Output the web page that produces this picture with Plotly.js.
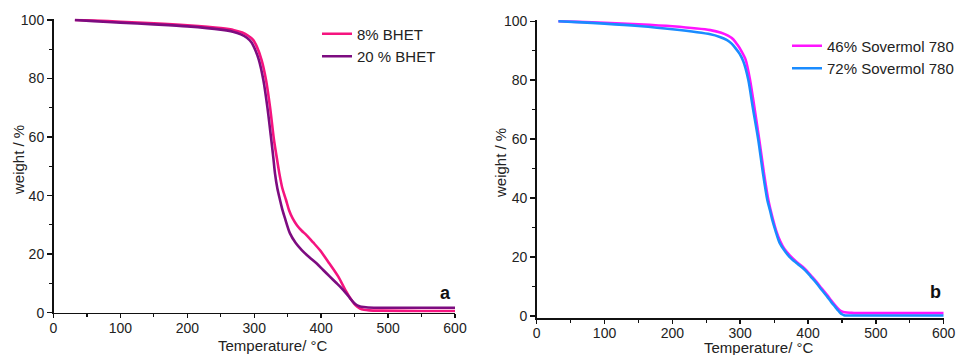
<!DOCTYPE html>
<html><head><meta charset="utf-8">
<script src="https://cdn.plot.ly/plotly-3.0.1.min.js"></script>
<style>html,body{margin:0;padding:0;background:#fff}#g{width:959px;height:355px}</style>
</head><body><div id="g"></div>
<script>
// Panel a
const tA_8 = [32, 60, 100, 150, 200, 250, 270, 282, 291, 298, 304, 311, 317.6, 323.5, 329.5, 334, 337.5, 342, 347.5, 352, 357.4, 364, 371, 378, 388, 398, 412, 425.6, 436, 444, 449, 454, 458, 464, 472, 490, 550, 600];
const wA_8 = [100, 99.8, 99.4, 98.9, 98.2, 97.2, 96.5, 95.7, 94.6, 93.3, 90.8, 86.3, 79.5, 70.4, 59.0, 52.5, 47.6, 42.5, 38.5, 35.0, 32.2, 29.8, 28.0, 26.5, 24.0, 21.4, 16.9, 12.3, 7.8, 4.8, 3.2, 2.0, 1.4, 1.0, 0.8, 0.7, 0.6, 0.6];
const tA_20 = [32, 60, 100, 150, 200, 250, 268, 280, 289, 296, 302, 307, 313.6, 319.5, 325.5, 328.5, 331, 334.5, 338.5, 342, 346, 353.4, 362, 371, 382, 393, 403, 413, 422, 430, 437, 443, 448, 452, 456, 460, 470, 520, 600];
const wA_20 = [100, 99.6, 99.1, 98.5, 97.8, 96.7, 96.0, 95.1, 93.9, 92.3, 89.5, 86.3, 79.5, 70.4, 59.0, 53.0, 47.6, 42.5, 38.5, 35.2, 32.2, 27.1, 23.8, 21.4, 19.0, 16.9, 14.6, 12.3, 10.3, 8.5, 6.7, 5.0, 3.6, 2.8, 2.3, 2.0, 1.8, 1.7, 1.7];
// Panel b
const tB_46 = [32, 60, 100, 150, 200, 256, 272, 282, 290, 296, 302, 308.1, 314.5, 320.8, 328.2, 335.1, 341.5, 345, 348.8, 353, 358.7, 365, 373.4, 384, 395.5, 404, 412.8, 420, 428.5, 434, 440, 444, 448, 452, 457, 463, 470, 520, 600];
const wB_46 = [100, 99.8, 99.5, 99.0, 98.3, 97.0, 96.1, 95.1, 93.8, 92.0, 89.8, 86.9, 80.1, 71.0, 59.7, 48.4, 39.4, 35.8, 32.4, 29.0, 25.5, 22.8, 20.5, 18.2, 16.0, 13.8, 11.5, 9.4, 7.0, 5.3, 3.6, 2.6, 1.8, 1.4, 1.2, 1.1, 1.0, 1.0, 1.0];
const tB_72 = [32, 60, 100, 150, 200, 256, 270, 280, 287, 293, 299, 304.6, 312, 318.4, 326.7, 333.6, 340, 344, 347.3, 352, 358, 365, 373, 384, 395.5, 404, 412.8, 420, 428.5, 434, 439.8, 444, 447, 450, 453, 457, 520, 600];
const wB_72 = [100, 99.7, 99.2, 98.4, 97.3, 95.6, 94.7, 93.7, 92.5, 90.9, 89.0, 86.4, 80.1, 71.0, 59.7, 48.4, 39.4, 35.8, 32.6, 29.0, 24.9, 22.3, 20.0, 17.8, 15.6, 13.4, 11.1, 8.9, 6.5, 4.8, 3.2, 2.0, 1.2, 0.6, 0.3, 0.2, 0.2, 0.2];

const xTicks = [0, 100, 200, 300, 400, 500, 600];
const yTicks = [0, 20, 40, 60, 80, 100];
const namesA = ['8% BHET', '20 % BHET'];
const namesB = ['46% Sovermol 780', '72% Sovermol 780'];
const panelLabels = ['a', 'b'];
const axisTitleX = 'Temperature/ °C';
const axisTitleY = 'weight / %';

const W = 959, H = 355;
const FAM = 'Liberation Sans, Arial, sans-serif';
const font = {family: FAM, size: 14, color: '#222'};
const titleFont = {family: FAM, size: 15, color: '#222'};

function tr(x, y, name, color, xa, ya, leg) {
  return {x: x, y: y, name: name, type: 'scatter', mode: 'lines',
    line: {color: color, width: 2.6, shape: 'spline', smoothing: 0.8},
    xaxis: xa, yaxis: ya, legend: leg};
}
const data = [
  tr(tA_8, wA_8, namesA[0], '#f5147f', 'x', 'y', 'legend'),
  tr(tA_20, wA_20, namesA[1], '#7d0c80', 'x', 'y', 'legend'),
  tr(tB_46, wB_46, namesB[0], '#ff14ff', 'x2', 'y2', 'legend2'),
  tr(tB_72, wB_72, namesB[1], '#1a8cff', 'x2', 'y2', 'legend2')
];

function xax(dom, anchor, standoff) {
  return {domain: dom, anchor: anchor, range: [0, 600], tickvals: xTicks, ticktext: xTicks.map(String),
    showline: true, linecolor: '#111', linewidth: 1.5, ticks: 'outside', ticklen: 4, tickwidth: 1.5, tickcolor: '#111',
    minor: {ticks: 'outside', dtick: 50, tick0: 0, ticklen: 3, tickwidth: 1.2, tickcolor: '#111', showgrid: false},
    ticklabelstandoff: standoff,
    showgrid: false, zeroline: false, tickfont: font, fixedrange: true};
}
function yax(dom, anchor, rng) {
  return {domain: dom, anchor: anchor, range: rng, tickvals: yTicks, ticktext: yTicks.map(String),
    showline: true, linecolor: '#111', linewidth: 1.5, ticks: 'outside', ticklen: 5, tickwidth: 1.5, tickcolor: '#111',
    minor: {ticks: 'outside', dtick: 10, tick0: 0, ticklen: 3, tickwidth: 1.2, tickcolor: '#111', showgrid: false},
    showgrid: false, zeroline: false, tickfont: font, fixedrange: true};
}

const legFont = {family: FAM, size: 15, color: '#222'};
function ann(text, x, y, extra) {
  return Object.assign({text: text, xref: 'paper', yref: 'paper', x: x / W, y: 1 - y / H,
    xanchor: 'center', yanchor: 'middle', showarrow: false, font: titleFont, borderpad: 0}, extra || {});
}
const layout = {
  width: W, height: H, margin: {l: 0, r: 0, t: 0, b: 0},
  paper_bgcolor: '#fff', plot_bgcolor: '#fff',
  font: font, showlegend: true,
  xaxis: xax([53.5 / W, 455 / W], 'y', -2),
  yaxis: yax([1 - 312.7 / H, 1 - 18.5 / H], 'x', [0, 100.5]),
  xaxis2: xax([536.7 / W, 943.7 / W], 'y2', -3),
  yaxis2: yax([1 - 318.4 / H, 1 - 19.8 / H], 'x2', [-0.8, 100.5]),
  legend: {x: 317 / W, y: 1 - 17.5 / H, xanchor: 'left', yanchor: 'top', bgcolor: 'rgba(0,0,0,0)', font: legFont, tracegroupgap: 0, itemwidth: 30},
  legend2: {x: 787 / W, y: 1 - 29.5 / H, xanchor: 'left', yanchor: 'top', bgcolor: 'rgba(0,0,0,0)', font: legFont, tracegroupgap: 0, itemwidth: 30},
  annotations: [
    ann(axisTitleX, 273, 345),
    ann(axisTitleX, 759, 347.5),
    ann(axisTitleY, 18, 160, {textangle: -90}),
    ann(axisTitleY, 500, 163, {textangle: -90}),
    ann('<b>' + panelLabels[0] + '</b>', 445, 293, {font: {family: FAM, size: 18, color: '#111'}}),
    ann('<b>' + panelLabels[1] + '</b>', 935, 292, {font: {family: FAM, size: 18, color: '#111'}})
  ]
};
Plotly.newPlot('g', data, layout, {displayModeBar: false, staticPlot: true});
</script></body></html>
